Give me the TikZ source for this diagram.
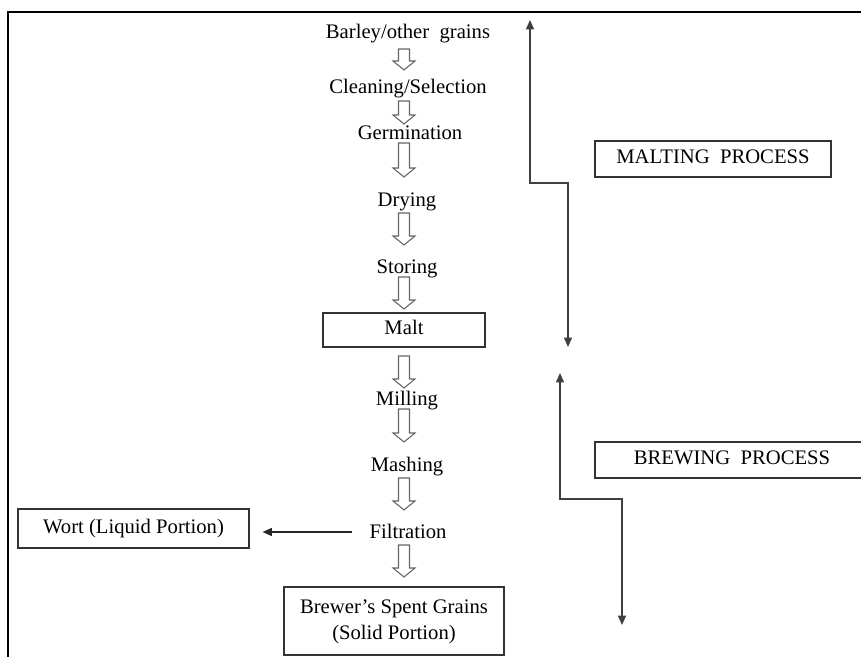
\documentclass[tikz,border=0pt]{standalone}
\usepackage{fontspec}
\setmainfont{Liberation Serif}
\usetikzlibrary{arrows.meta}
\tikzset{
  txt/.style={font=\fontsize{15.5}{19}\selectfont, inner sep=0pt, anchor=base},
  boxed/.style={draw=black!80, line width=0.8pt, font=\fontsize{15.5}{19}\selectfont, inner sep=0pt,
    text height=0.68em, text depth=0pt, align=center},
  hollowarrow/.style={draw=black!60, line width=0.8pt, fill=white, line join=miter},
  thinarrow/.style={draw=black!85, line width=1pt, -{Triangle[length=7pt,width=6pt]}},
  bracket/.style={draw=black!75, line width=1.1pt, {Triangle[length=7pt,width=6pt]}-{Triangle[length=7pt,width=6pt]}}
}
\newcommand\harrow[3]{\draw[hollowarrow] (#1-5.5,#2) -- (#1+5.5,#2) -- (#1+5.5,#3-9) -- (#1+11,#3-9) -- (#1,#3) -- (#1-11,#3-9) -- (#1-5.5,#3-9) -- cycle;}
\begin{document}
\begin{tikzpicture}[x=0.75pt,y=-0.75pt]
\useasboundingbox (0,0) rectangle (861,657);
% frame
\draw[line width=1.5pt] (8,657) -- (8,12) -- (861,12);

% main column
\node[txt] (barley) at (408,38) {Barley/other\ \ grains};
\node[txt] (clean) at (408,93) {Cleaning/Selection};
\node[txt] (germ) at (410,139) {Germination};
\node[txt] (dry) at (407,206) {Drying};
\node[txt] (store) at (407,273) {Storing};
\node[boxed, minimum width=162*0.75pt, minimum height=34*0.75pt] (malt) at (404,330) {Malt};
\node[txt] (mill) at (407,405) {Milling};
\node[txt] (mash) at (407,471) {Mashing};
\node[txt] (filt) at (408,538) {Filtration};
\node[boxed, minimum width=231*0.75pt, minimum height=39*0.75pt] (wort) at (133.5,528.5) {Wort (Liquid Portion)};
\node[draw=black!80, line width=0.8pt, minimum width=220*0.75pt, minimum height=68*0.75pt] (bsg) at (394,621) {};
\node[txt] (bsg1) at (394,613) {Brewer's Spent Grains};
\node[txt] (bsg2) at (394,639) {(Solid Portion)};

% hollow arrows
\harrow{404}{49}{70}
\harrow{404}{101}{124}
\harrow{404}{143}{177}
\harrow{404}{213}{245}
\harrow{404}{277}{309}
\harrow{404}{356}{388}
\harrow{404}{409}{442}
\harrow{404}{478}{510}
\harrow{404}{545}{577}

% filtration -> wort
\coordinate (fstart) at (352,532);
\draw[thinarrow, shorten >=13*0.75pt] (fstart) -- (wort.east |- fstart);

% process labels
\node[boxed, minimum width=236*0.75pt, minimum height=36*0.75pt] (malting) at (713,159) {MALTING\ \ PROCESS};
\node[boxed, minimum width=274*0.75pt, minimum height=36*0.75pt] (brewing) at (732,460) {BREWING\ \ PROCESS};

% brackets
\coordinate (mtop) at (530,20);
\coordinate (mbot) at (568,347);
\draw[bracket] (mtop) -- (530,183) -- (568,183) -- (mbot);
\coordinate (btop) at (560,373);
\coordinate (bbot) at (622,625);
\draw[bracket] (btop) -- (560,499) -- (622,499) -- (bbot);
\end{tikzpicture}
\end{document}
